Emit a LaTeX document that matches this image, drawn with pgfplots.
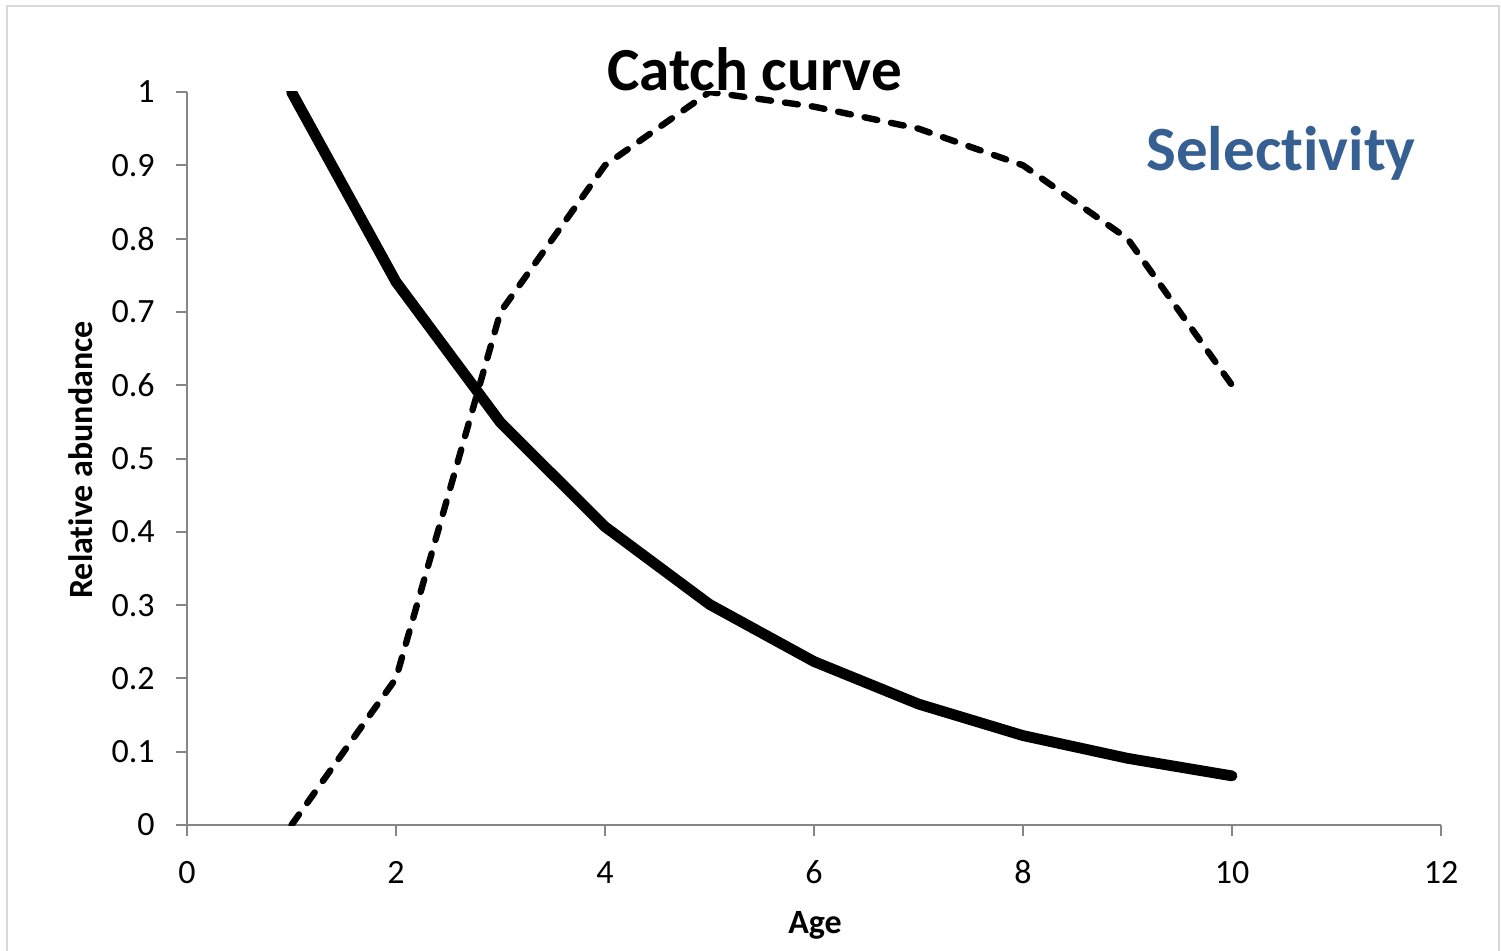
\documentclass[border=0pt]{standalone}
\usepackage{fontspec}
\setmainfont{Carlito}[Ligatures={NoCommon,NoContextual}]
\usepackage{pgfplots}
\pgfplotsset{compat=1.18}
\definecolor{axisgray}{HTML}{868686}
\definecolor{framegray}{HTML}{D9D9D9}
\definecolor{selblue}{HTML}{376092}
% keep t and i as separate glyphs
\newcommand{\nl}{\kern0pt }

\begin{document}
\begin{tikzpicture}[x=1pt,y=1pt]
\path[use as bounding box] (0,0) rectangle (750.5,475);
% chart area frame
\draw[framegray, line width=1pt] (3.5,-5) -- (3.5,472) -- (749.5,472) -- (749.5,-5);
\begin{axis}[
  at={(93.5pt,62.5pt)}, anchor=south west,
  scale only axis, width=627pt, height=366.5pt,
  xmin=0, xmax=12, ymin=0, ymax=1,
  axis x line*=bottom, axis y line*=left,
  axis line style={axisgray, line width=1pt, -},
  xtick={0,2,4,6,8,10,12},
  ytick={0,0.1,0.2,0.3,0.4,0.5,0.6,0.7,0.8,0.9,1},
  tick align=outside, major tick length=5.5pt,
  tick style={axisgray, line width=1pt},
  ticklabel style={font=\fontsize{17pt}{20pt}\selectfont},
  /pgf/number format/assume math mode=true,
  xticklabel style={anchor=base, yshift=-23.5pt},
  yticklabel style={anchor=east, inner sep=0pt, xshift=-10.5pt},
]
% catch curve
\addplot[black, line width=5.4pt, line cap=round, line join=round] coordinates {
  (1,1) (2,0.741) (3,0.549) (4,0.407) (5,0.301)
  (6,0.223) (7,0.165) (8,0.122) (9,0.091) (10,0.067)
};
% selectivity
\addplot[black, line width=3.2pt, line cap=round, line join=round,
  dash pattern=on 6.5pt off 7pt] coordinates {
  (1,0) (2,0.2) (3,0.7) (4,0.9) (5,1.0)
  (6,0.98) (7,0.95) (8,0.9) (9,0.8) (10,0.6)
};
\end{axis}
\node[anchor=base, font=\fontsize{30.6pt}{36pt}\selectfont\bfseries] at (377.25,429.5) {Catch curve};
\node[anchor=base, text=selblue, font=\fontsize{31.5pt}{36pt}\selectfont\bfseries] at (640.5,389.5) {Selec\nl t\nl ivity};
\node[anchor=base, inner sep=0pt, font=\fontsize{17pt}{20pt}\selectfont\bfseries] at (407.5,8.5) {Age};
\node[anchor=base, inner sep=0pt, rotate=90, font=\fontsize{17pt}{20pt}\selectfont\bfseries] at (46.5,245) {Relat\nl ive abundance};
\end{tikzpicture}
\end{document}
